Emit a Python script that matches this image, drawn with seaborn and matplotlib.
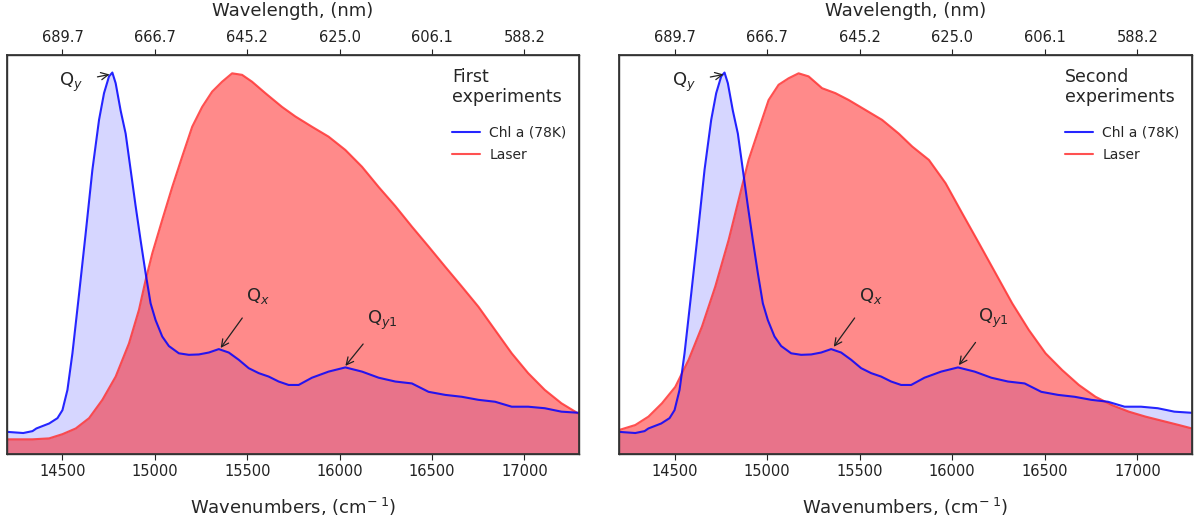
import numpy as np
import pandas as pd
import matplotlib
matplotlib.use("Agg")
import matplotlib.pyplot as plt
import seaborn as sns

# ---- data ----
chl_wn = [14201, 14288, 14338, 14359, 14428, 14473, 14500, 14527, 14554, 14590, 14626,
          14662, 14698, 14725, 14752, 14770, 14788, 14815, 14842, 14869, 14896, 14923,
          14950, 14977, 15004, 15040, 15076, 15130, 15184, 15238, 15292, 15346, 15400,
          15454, 15508, 15562, 15616, 15670, 15724, 15778, 15850, 15940, 16031, 16121,
          16211, 16301, 16391, 16481, 16571, 16661, 16751, 16841, 16931, 17020, 17110,
          17200, 17295]
chl_val = [0.058, 0.055, 0.060, 0.067, 0.080, 0.094, 0.115, 0.168, 0.264, 0.420, 0.580,
           0.745, 0.876, 0.946, 0.990, 1.000, 0.972, 0.900, 0.840, 0.745, 0.650, 0.560,
           0.474, 0.395, 0.351, 0.308, 0.283, 0.264, 0.260, 0.261, 0.266, 0.275, 0.266,
           0.247, 0.225, 0.212, 0.203, 0.190, 0.181, 0.181, 0.200, 0.216, 0.227, 0.216,
           0.200, 0.190, 0.185, 0.163, 0.155, 0.150, 0.142, 0.137, 0.124, 0.124, 0.120,
           0.111, 0.108]

laser1_wn = [14201, 14338, 14428, 14500, 14572, 14644, 14716, 14788, 14860, 14914, 14950,
             14986, 15040, 15094, 15148, 15202, 15256, 15310, 15364, 15418, 15472, 15526,
             15598, 15688, 15760, 15850, 15940, 16031, 16121, 16211, 16301, 16391, 16481,
             16571, 16661, 16751, 16841, 16931, 17020, 17110, 17200, 17295]
laser1_val = [0.0385, 0.0385, 0.041, 0.052, 0.067, 0.094, 0.142, 0.203, 0.290, 0.378, 0.456,
              0.526, 0.614, 0.700, 0.780, 0.858, 0.910, 0.950, 0.976, 0.998, 0.994, 0.976,
              0.946, 0.910, 0.885, 0.858, 0.832, 0.797, 0.753, 0.700, 0.650, 0.596, 0.544,
              0.491, 0.439, 0.386, 0.325, 0.264, 0.212, 0.168, 0.133, 0.105]

laser2_wn = [14201, 14288, 14359, 14432, 14504, 14576, 14648, 14720, 14792, 14846, 14900,
             14954, 15008, 15062, 15116, 15170, 15224, 15297, 15369, 15441, 15531, 15621,
             15711, 15784, 15874, 15964, 16054, 16144, 16234, 16324, 16414, 16504, 16594,
             16684, 16774, 16864, 16954, 17044, 17134, 17224, 17295]
laser2_val = [0.063, 0.076, 0.098, 0.133, 0.176, 0.247, 0.334, 0.439, 0.561, 0.666, 0.771,
              0.850, 0.928, 0.968, 0.985, 0.998, 0.990, 0.959, 0.946, 0.928, 0.902, 0.876,
              0.840, 0.806, 0.771, 0.710, 0.631, 0.553, 0.474, 0.395, 0.325, 0.264, 0.220,
              0.181, 0.150, 0.128, 0.111, 0.098, 0.087, 0.076, 0.067]

panel_titles = ["First\nexperiments", "Second\nexperiments"]
tick_wn = [14500, 15000, 15500, 16000, 16500, 17000]
series_labels = ["Chl a (78K)", "Laser"]

# annotation positions: (label, text xy, arrow tip xy) per panel
annots = [
    [("Q$_y$", (14548, 0.975), (14755, 0.995)),
     ("Q$_x$", (15560, 0.415), (15356, 0.278)),
     ("Q$_{y1}$", (16230, 0.350), (16031, 0.231))],
    [("Q$_y$", (14552, 0.975), (14765, 0.995)),
     ("Q$_x$", (15560, 0.415), (15360, 0.281)),
     ("Q$_{y1}$", (16220, 0.355), (16036, 0.233))],
]

sns.set_theme(style="ticks")
plt.rcParams['font.family'] = ['DejaVu Sans']
plt.rcParams['mathtext.fontset'] = 'dejavusans'

fig = plt.figure(figsize=(11.95, 5.17), dpi=100)
ax_pos = [[7 / 1195, 63 / 517, 572 / 1195, 399 / 517],
          [619 / 1195, 63 / 517, 573 / 1195, 399 / 517]]

lasers = [(laser1_wn, laser1_val), (laser2_wn, laser2_val)]
xlim = (14200, 17295)
ylim = (0, 1.046)

for i in range(2):
    ax = fig.add_axes(ax_pos[i])
    chl = pd.DataFrame({"wn": chl_wn, "val": chl_val})
    las = pd.DataFrame({"wn": lasers[i][0], "val": lasers[i][1]})
    ax.fill_between(chl["wn"], 0, chl["val"], color="#0000ff", alpha=0.16, lw=0)
    ax.fill_between(las["wn"], 0, las["val"], color="#ff0000", alpha=0.46, lw=0)
    sns.lineplot(data=las, x="wn", y="val", ax=ax, color="#ff3333", lw=1.5,
                 alpha=0.85, label=series_labels[1], sort=False)
    sns.lineplot(data=chl, x="wn", y="val", ax=ax, color="#0000ff", lw=1.5,
                 alpha=0.85, label=series_labels[0], sort=False)
    ax.set_xlim(*xlim)
    ax.set_ylim(*ylim)
    ax.set_yticks([])
    ax.set_ylabel("")
    ax.set_xticks(tick_wn)
    ax.set_xticklabels([str(t) for t in tick_wn], fontsize=10.5)
    ax.set_xlabel(r"Wavenumbers, (cm$^{-\;1}$)", fontsize=13, labelpad=12)
    ax.tick_params(axis='x', length=4, width=0.8, colors='#222222')
    for s in ax.spines.values():
        s.set_color('#333333')
        s.set_linewidth(1.0)

    h, l = ax.get_legend_handles_labels()
    order = [1, 0]
    leg = ax.legend([h[j] for j in order], [l[j] for j in order],
                    title=panel_titles[i], frameon=False, loc='upper right',
                    alignment='left', fontsize=10, title_fontsize=12.5,
                    borderaxespad=0.5, handlelength=2.0, handletextpad=0.7,
                    labelspacing=0.6)
    leg._legend_box.sep = 14

    for lab, txy, axy in annots[i]:
        ax.annotate(lab, xy=axy, xytext=txy, fontsize=13, ha='center', va='center',
                    arrowprops=dict(arrowstyle='->', color='#222222', lw=0.9,
                                    shrinkA=8, shrinkB=0))

    top = ax.twiny()
    top.set_xlim(*xlim)
    top.set_xticks(tick_wn)
    top.set_xticklabels([f"{1e7 / t:.1f}" for t in tick_wn], fontsize=10.5)
    top.set_xlabel("Wavelength, (nm)", fontsize=13, labelpad=10)
    top.tick_params(axis='x', length=4, width=0.8, colors='#222222')
    for s in top.spines.values():
        s.set_color('#333333')

fig.savefig("out.png", dpi=100)
